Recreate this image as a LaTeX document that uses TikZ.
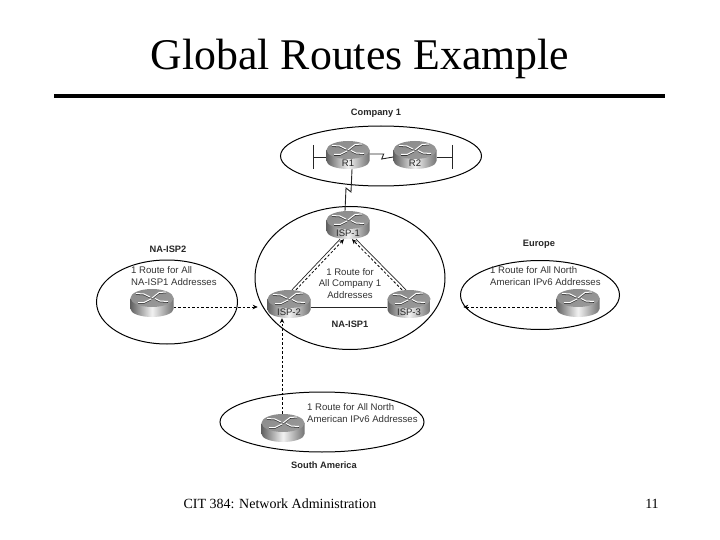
\documentclass[tikz,border=0pt]{standalone}
\usepackage{fontspec}
\setmainfont{Liberation Serif}
\newfontfamily\labelfont{Liberation Sans}
\usetikzlibrary{shapes.geometric,arrows.meta,calc}
\tikzset{
  zone/.style={draw,ellipse,line width=1pt,inner sep=0pt},
  routerbox/.style={rectangle,inner sep=0pt,minimum width=43pt,minimum height=28pt,font=\labelfont\fontsize{9.5}{9.5}\selectfont,text=black!85},
  zonetitle/.style={font=\labelfont\bfseries\fontsize{9.3}{10}\selectfont,text=black!85,inner sep=0pt},
  zonetext/.style={font=\labelfont\fontsize{9.6}{12.8}\selectfont,text=black!80,inner sep=0pt,align=left},
  link/.style={draw,line width=0.7pt,black!85},
  route/.style={draw,line width=0.8pt,dash pattern=on 2.6pt off 2pt,-{Stealth[length=5pt,width=4.5pt]}},
  markw/.style={white,line width=1pt},
  markb/.style={black!80,line width=1pt}
}
\newcommand{\routerat}[4]{%
  \begin{scope}[shift={(#2,#3)}]
    \path[left color=black!62,right color=black!55,middle color=black!5]
      (-21.5,-5) -- (-21.5,6) arc[start angle=180,end angle=360,x radius=21.5pt,y radius=8pt] -- (21.5,-5) -- cycle;
    \path[left color=black!45,right color=black!40,shading angle=20] (0,-5) ellipse[x radius=21.5pt,y radius=9pt];
    \draw[markb] (-2,-5.2) -- (-8,-8.2) -- (-16,-8.7);
    \draw[markb] (0,-4.2) -- (7,-9.7) -- (14,-10.2);
    \draw[markb] (-1,-3.2) -- (-8,0.3) -- (-14,0.3);
    \draw[markb] (3,-3.7) -- (8,-1.2) -- (16,-0.7);
    \draw[markw] (-2,-6) -- (-8,-9) -- (-16,-9.5);
    \draw[markw] (0,-5) -- (7,-10.5) -- (14,-11);
    \draw[markw] (-1,-4) -- (-8,-0.5) -- (-14,-0.5);
    \draw[markw] (3,-4.5) -- (8,-2) -- (16,-1.5);
  \end{scope}
  \node[routerbox] (#1) at (#2,#3) {\raisebox{-11.5pt}[0pt][0pt]{#4}};%
}
\begin{document}
\begin{tikzpicture}[x=1pt,y=-1pt]
\useasboundingbox (0,0) rectangle (720,540);
\fill[white] (0,0) rectangle (720,540);
\node[font=\fontsize{43.8}{46}\selectfont,inner sep=0pt] (title) at (360,59) {Global Routes Example};
\coordinate (ruleL) at (54,96);
\coordinate (ruleR) at (665,96);
\draw[line width=4pt] (ruleL) -- (ruleR);
\node[font=\fontsize{14}{16}\selectfont,inner sep=0pt] (foot) at (280,504) {CIT 384: Network Administration};
\node[font=\fontsize{14}{16}\selectfont,inner sep=0pt] (page) at (652,504) {11};

\node[zone,minimum width=201pt,minimum height=60pt] (company) at (381,156) {};
\node[zone,minimum width=190pt,minimum height=143pt] (naone) at (350,278) {};
\node[zone,minimum width=141pt,minimum height=84pt] (natwo) at (167,302) {};
\node[zone,minimum width=159pt,minimum height=69pt] (europe) at (540,295) {};
\node[zone,minimum width=204pt,minimum height=60pt] (south) at (322,422) {};

\node[zonetitle] (tcompany) at (376,113) {Company 1};
\node[zonetitle] (tnatwo) at (168,249) {NA-ISP2};
\node[zonetitle] (teurope) at (539,244) {Europe};
\node[zonetitle] (tnaone) at (350,324) {NA-ISP1};
\node[zonetitle] (tsouth) at (324,465) {South America};

\routerat{rone}{348}{155}{R1}
\routerat{rtwo}{415}{155}{R2}
\routerat{ispone}{348}{225}{ISP-1}
\routerat{isptwo}{289}{304}{ISP-2}
\routerat{ispthree}{409}{304}{ISP-3}
\routerat{rnatwo}{152}{303}{}
\routerat{reurope}{578}{303}{}
\routerat{rsouth}{283}{428}{}

\node[zonetext,anchor=west] (cnatwo) at (131,276) {1 Route for All\\NA-ISP1 Addresses};
\node[zonetext,anchor=west] (ceurope) at (490,276) {1 Route for All North\\American IPv6 Addresses};
\node[zonetext,anchor=west] (csouth) at (307,413) {1 Route for All North\\American IPv6 Addresses};
\node[zonetext,align=center,font=\labelfont\fontsize{9.6}{11.6}\selectfont] (cnaone) at (350,283.5) {1 Route for\\All Company 1\\Addresses};

% LAN stubs
\coordinate (lanL) at (313,157);
\coordinate (lanR) at (452,157);
\draw[link] (lanL) -- (rone.west |- lanL);
\draw[link] ($(lanL)+(0,-12)$) -- ($(lanL)+(0,12)$);
\draw[link] (rtwo.east |- lanR) -- (lanR);
\draw[link] ($(lanR)+(0,-12)$) -- ($(lanR)+(0,12)$);
% serial links
\draw[link,line width=0.9pt] (rone.east |- lanL) ++(0,-3) -- ++(14,0) -- ++(-2,5) -- (rtwo.west |- lanL);
\draw[link,line width=0.9pt] ($(rone.south)+(4,0)$) -- (351,192) -- (346,188) -- ($(ispone.north)+(-3,0)$);
% inner links
\draw[link] ($(isptwo.north)+(3,0)$) -- ($(ispone.south)+(-8,0)$);
\draw[link] ($(ispthree.north)+(-3,0)$) -- ($(ispone.south)+(8,0)$);
\draw[link] ($(isptwo.east)+(0,3)$) -- ($(ispthree.west)+(0,3)$);
% routes
\draw[route] ($(isptwo.north)+(7,0)$) -- ($(ispone.south)+(-4,0)$);
\draw[route] ($(ispthree.north)+(-7,0)$) -- ($(ispone.south)+(4,0)$);
\draw[route] ($(rnatwo.east)+(0,4)$) -- ($(rnatwo.east)+(84,4)$);
\draw[route] ($(reurope.west)+(0,4)$) -- ($(reurope.west)+(-93,4)$);
\draw[route] ($(rsouth.north)+(-1,0)$) -- (isptwo.south -| 282,333);
\end{tikzpicture}
\end{document}
